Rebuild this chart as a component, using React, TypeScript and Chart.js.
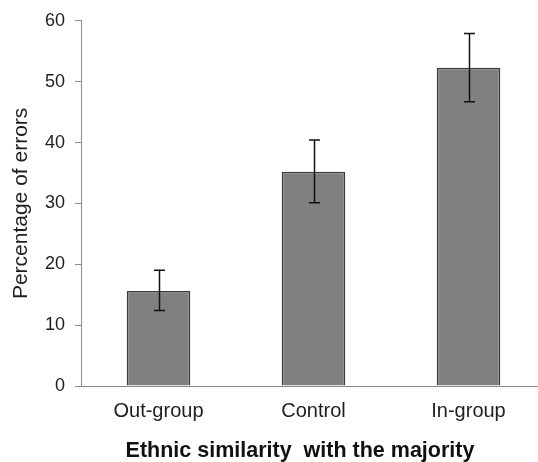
import { useEffect, useRef } from "react";
import { Chart, registerables } from "chart.js";

Chart.register(...registerables);

const categories = ["Out-group", "Control", "In-group"];
const means = [15.6, 35.2, 52.3];
const errLow = [3.2, 5.1, 5.6];
const errHigh = [3.4, 5.2, 5.6];
const yTicks = [0, 10, 20, 30, 40, 50, 60];
const yTitle = "Percentage of errors";
const xTitle = "Ethnic similarity  with the majority";

const FAMILY = '"Liberation Sans", Arial, Helvetica, sans-serif';

const errorBarsPlugin = {
  id: "errorBars",
  afterDatasetsDraw(chart: any) {
    const meta = chart.getDatasetMeta(0);
    const yScale = chart.scales.y;
    const ctx = chart.ctx;
    const cap = 5.5;
    ctx.save();
    ctx.strokeStyle = "#111111";
    ctx.lineWidth = 1.5;
    meta.data.forEach((bar: any, i: number) => {
      const x = Math.round(bar.x) + 0.5;
      const top = yScale.getPixelForValue(means[i] + errHigh[i]);
      const bot = yScale.getPixelForValue(means[i] - errLow[i]);
      ctx.beginPath();
      ctx.moveTo(x, top);
      ctx.lineTo(x, bot);
      ctx.moveTo(x - cap, top);
      ctx.lineTo(x + cap, top);
      ctx.moveTo(x - cap, bot);
      ctx.lineTo(x + cap, bot);
      ctx.stroke();
    });
    ctx.restore();
  },
};

const xTitlePlugin = {
  id: "xTitleText",
  afterDraw(chart: any) {
    const { ctx, chartArea } = chart;
    ctx.save();
    ctx.font = `bold 21.5px ${FAMILY}`;
    ctx.fillStyle = "#111111";
    ctx.textAlign = "center";
    ctx.textBaseline = "middle";
    ctx.fillText(xTitle, (chartArea.left + chartArea.right) / 2 - 13.5, chartArea.bottom + 65);
    ctx.restore();
  },
};

export default function App() {
  const canvasRef = useRef<HTMLCanvasElement | null>(null);

  useEffect(() => {
    if (!canvasRef.current) return;
    const chart = new Chart(canvasRef.current, {
      type: "bar",
      data: {
        labels: categories,
        datasets: [
          {
            data: means,
            backgroundColor: "#808080",
            borderColor: "#3a3a3a",
            borderWidth: 1.5,
            barPercentage: 0.41,
            categoryPercentage: 1,
          },
        ],
      },
      options: {
        animation: false,
        responsive: false,
        devicePixelRatio: 1,
        layout: { padding: { top: 19, right: 0, bottom: 0, left: 0 } },
        plugins: {
          legend: { display: false },
          tooltip: { enabled: false },
          title: { display: false },
        },
        scales: {
          x: {
            afterFit: (s: any) => {
              s.height = 76;
            },
            grid: { display: false, drawTicks: false },
            border: { display: true, color: "#8c8c8c", width: 1 },
            ticks: {
              padding: 13,
              color: "#1e1e1e",
              font: { size: 20, family: FAMILY },
            },
          },
          y: {
            min: 0,
            max: 60,
            afterFit: (s: any) => {
              s.width = 81;
            },
            afterBuildTicks: (s: any) => {
              s.ticks = yTicks.map((v) => ({ value: v }));
            },
            grid: {
              drawOnChartArea: false,
              drawTicks: true,
              tickLength: 6,
              color: "#8c8c8c",
              lineWidth: 1,
            },
            border: { display: true, color: "#8c8c8c", width: 1 },
            ticks: {
              padding: 10,
              color: "#1e1e1e",
              font: { size: 18, family: FAMILY },
            },
            title: {
              display: true,
              text: yTitle,
              color: "#1e1e1e",
              font: { size: 21, family: FAMILY },
              padding: { top: 9, bottom: 0 },
            },
          },
        },
      },
      plugins: [errorBarsPlugin, xTitlePlugin],
    } as any);
    return () => chart.destroy();
  }, []);

  return (
    <div
      style={{
        position: "fixed",
        left: 0,
        top: 0,
        width: 538,
        height: 462,
        overflow: "hidden",
        background: "#ffffff",
      }}
    >
      <canvas ref={canvasRef} width={546} height={462} style={{ display: "block" }} />
    </div>
  );
}
